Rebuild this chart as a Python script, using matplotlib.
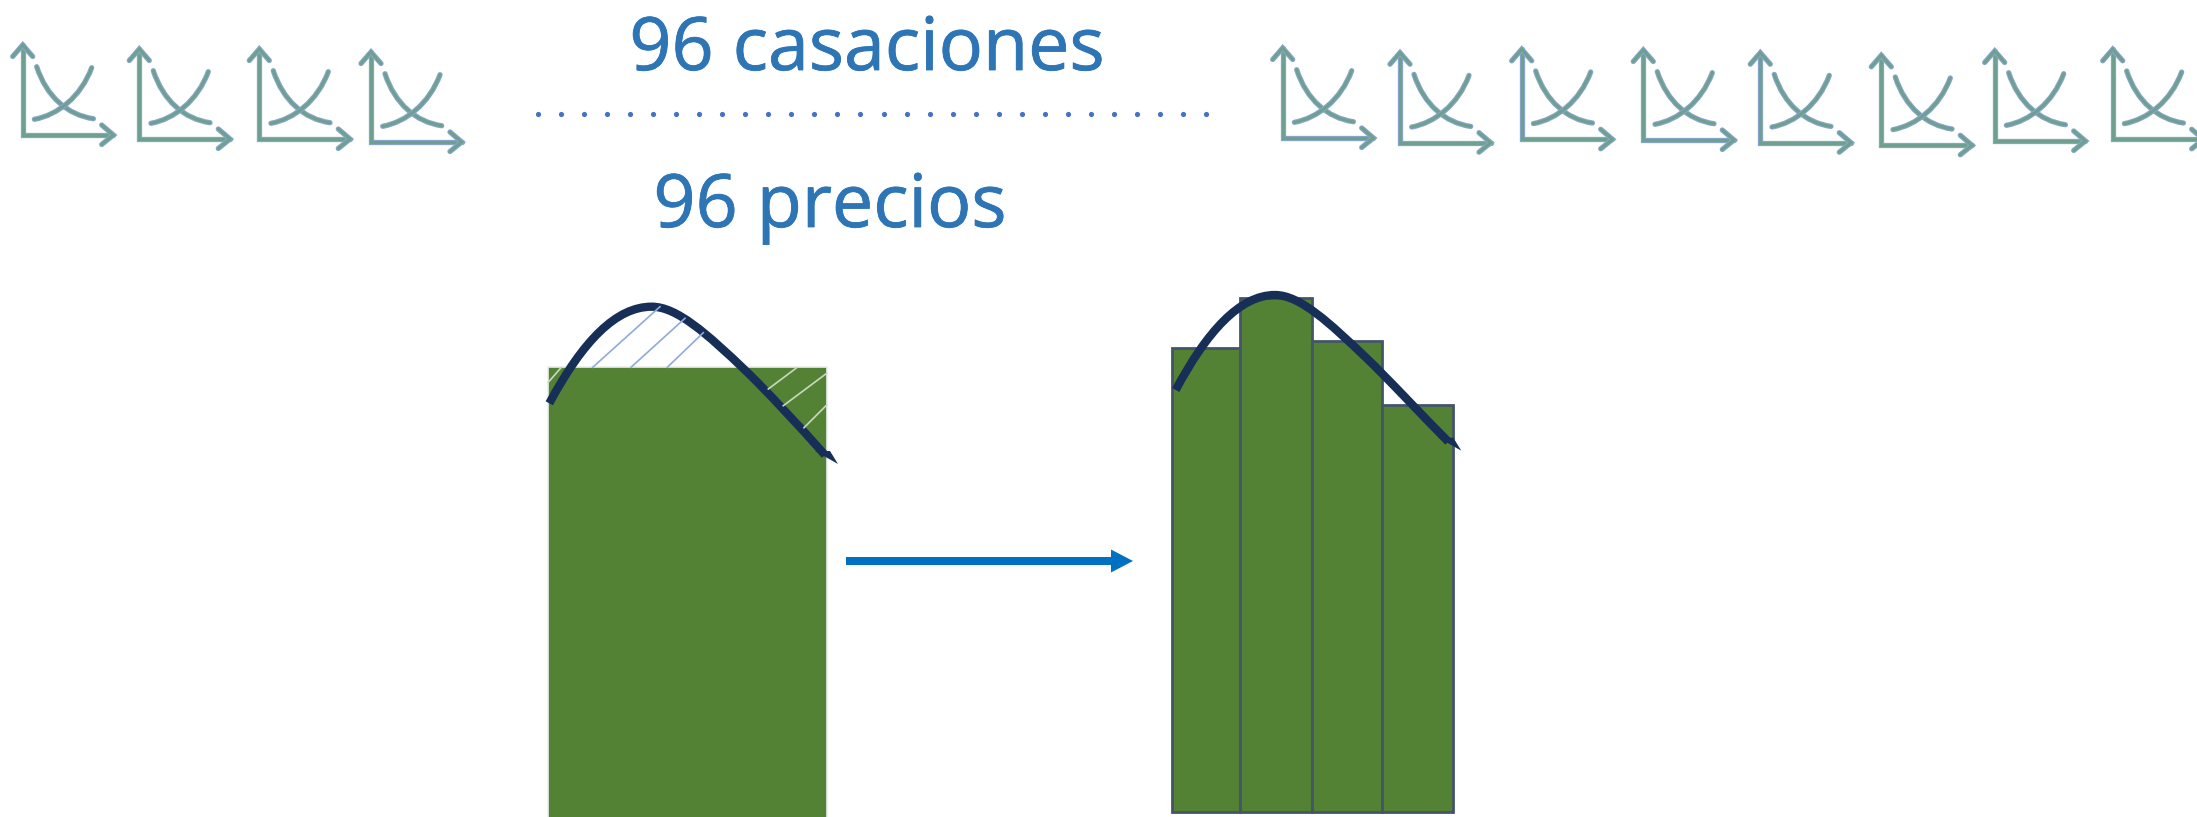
import matplotlib
matplotlib.use("Agg")
import matplotlib.pyplot as plt
import matplotlib.patheffects as pe
from matplotlib.path import Path
from matplotlib.patches import PathPatch
import numpy as np

W, H = 2197, 817
GREEN = '#548235'
NAVY = '#172E57'
TEXT_BLUE = '#2E75B6'

# origins of the small supply/demand icons, pixels
icon_x = [22.7, 139.3, 259.3, 371, 1282.7, 1400, 1521.7, 1643.3, 1760.3, 1881.3, 1994.7, 2112.7]
icon_y = [135, 139, 139, 142, 138, 142.7, 139.3, 140, 142.7, 145.3, 141, 139.3]

# icon shape relative to its origin
axis_x = [0, 0, 90.7]
axis_y = [-90, 0, 0]
head_up_x = [-10, 0, 10]
head_up_y = [-78.5, -90, -78.5]
head_right_x = [79, 90.7, 79]
head_right_y = [-10, 0, 9.5]
demand_x = [14, 24, 45, 70.7]
demand_y = [-68.3, -38, -20, -16.3]
supply_x = [11.7, 35, 58, 69]
supply_y = [-15.7, -20, -38, -67.3]

# single block
block_left = [547.5]
block_width = [279.5]
block_top = [367]

# four blocks
bars_left = [1172, 1240, 1312, 1382]
bars_width = [68, 72, 70, 71]
bars_top = [348, 298, 341, 405]
bars_base = 812

# demand curve over the single block, bezier control points
curve1_x = [549.3, 583.3, 616.7, 651.7, 676.7, 706.7, 746.7, 766.7, 796.7, 825]
curve1_y = [403.3, 340, 306.7, 306.7, 306.7, 333.3, 371.7, 391, 423.3, 455]

# same curve over the four blocks
curve2_x = [1175.7, 1206.7, 1240, 1275, 1300, 1330, 1366.7, 1386.7, 1423.3, 1448.3]
curve2_y = [390, 331.7, 295, 295, 295, 323.3, 358.3, 377.3, 416.7, 441.7]

# hatch lines, (x0, y0, x1, y1)
hatch_blue = [(592.7, 367.3, 660, 306.7), (631, 367.3, 685, 318.3), (667.3, 367.3, 703.3, 332.7)]
hatch_pale = [(548.3, 382.3, 561, 367.7), (768.3, 389, 796.7, 367.7), (783.3, 405.7, 826.7, 373.3), (804, 427.7, 826.7, 405)]


def bezier(xs, ys):
    codes = [Path.MOVETO] + [Path.CURVE4] * (len(xs) - 1)
    return Path(np.column_stack([xs, ys]), codes)


fig = plt.figure(figsize=(W / 100, H / 100), dpi=100)
ax = fig.add_axes([0, 0, 1, 1])

# blocks
ax.bar(block_left, np.array(block_top) - H - 5, bottom=H + 5, width=block_width, align='edge',
       color=GREEN, edgecolor='#EDEDED', linewidth=1.2)
ax.bar(bars_left, np.array(bars_top) - bars_base, bottom=bars_base, width=bars_width, align='edge',
       color=GREEN, edgecolor='#44546A', linewidth=2)

# hatching
for x0, y0, x1, y1 in hatch_blue:
    ax.plot([x0, x1], [y0, y1], color='#8FAADC', lw=1.2)
for x0, y0, x1, y1 in hatch_pale:
    ax.plot([x0, x1], [y0, y1], color='#CBD8C0', lw=1.2)

# curves with their small pointed end
for cx, cy in [(curve1_x, curve1_y), (curve2_x, curve2_y)]:
    ax.add_patch(PathPatch(bezier(cx, cy), fc='none', ec=NAVY, lw=6, capstyle='butt', joinstyle='round'))
    ex, ey = cx[-1], cy[-1]
    ax.fill([ex - 10, ex + 13, ex + 5], [ey - 4, ey + 9, ey - 4], color=NAVY, lw=0)

# icons
for ox, oy in zip(icon_x, icon_y):
    for px, py in [(axis_x, axis_y), (head_up_x, head_up_y), (head_right_x, head_right_y)]:
        xs = np.array(px) + ox
        ys = np.array(py) + oy
        ax.plot(xs, ys, color='#86A6CC', lw=3.8, solid_capstyle='round', solid_joinstyle='miter')
        ax.plot(xs, ys, color='#6FA08F', lw=2.2, solid_capstyle='round', solid_joinstyle='miter')
    for px, py in [(demand_x, demand_y), (supply_x, supply_y)]:
        p = bezier(np.array(px) + ox, np.array(py) + oy)
        ax.add_patch(PathPatch(p, fc='none', ec='#86A6CC', lw=3.8, capstyle='round'))
        ax.add_patch(PathPatch(p, fc='none', ec='#6FA08F', lw=2.2, capstyle='round'))

# dotted divider
ax.scatter(np.linspace(538, 1206, 30), [114] * 30, s=14, color='#4472C4', linewidths=0)

# text, slightly thickened
heavy = [pe.withStroke(linewidth=0.6, foreground=TEXT_BLUE)]
ax.text(867, 70, '96 casaciones', color=TEXT_BLUE, fontsize=53, family='Open Sans', ha='center', va='baseline', path_effects=heavy)
ax.text(830, 227, '96 precios', color=TEXT_BLUE, fontsize=53, family='Open Sans', ha='center', va='baseline', path_effects=heavy)

# arrow between the blocks
ax.arrow(846, 561, 287, 0, width=8, head_width=23, head_length=22, length_includes_head=True,
         color='#0070C0', linewidth=0)

ax.set_xlim(0, W)
ax.set_ylim(H, 0)
ax.axis('off')
fig.savefig('out.png', dpi=100)
